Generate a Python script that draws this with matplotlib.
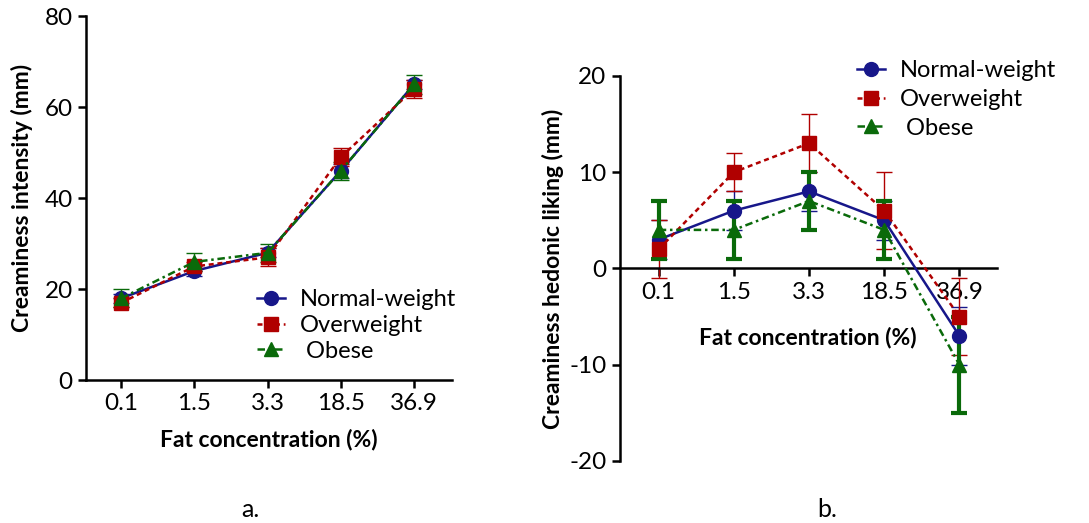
import matplotlib.pyplot as plt

plt.rcParams['font.family'] = ['Lato', 'DejaVu Sans']
plt.rcParams['axes.unicode_minus'] = False

# fat levels tested
fat_levels = ["0.1", "1.5", "3.3", "18.5", "36.9"]
groups = ["Normal-weight", "Overweight", " Obese"]

# creaminess intensity (mm), mean and SEM
intensity_normal = [18, 24, 28, 46, 65]
intensity_normal_err = [1, 1, 1, 1.5, 1]
intensity_over = [17, 25, 27, 49, 64]
intensity_over_err = [1, 1, 2, 2, 2]
intensity_obese = [18, 26, 28, 46, 65]
intensity_obese_err = [2, 2, 2, 2, 2]

# creaminess hedonic liking (mm), mean and SEM
liking_normal = [3, 6, 8, 5, -7]
liking_normal_err = [2, 2, 2, 2, 3]
liking_over = [2, 10, 13, 6, -5]
liking_over_err = [3, 2, 3, 4, 4]
liking_obese = [4, 4, 7, 4, -10]
liking_obese_err = [3, 3, 3, 3, 5]

colors = ["#17178a", "#b00000", "#0a6a0a"]
styles = ["-", (0, (2, 1.5)), (0, (3, 1.5, 1, 1.5))]
markers = ["o", "s", "^"]


def draw_series(ax, series, errs, err_widths):
	x = range(len(fat_levels))
	handles = []
	for y, e, c, ls, m, ew, name in zip(series, errs, colors, styles, markers, err_widths, groups):
		ax.errorbar(x, y, yerr=e, fmt='none', ecolor=c, elinewidth=ew, capsize=6, capthick=ew, zorder=2)
		h, = ax.plot(x, y, color=c, linestyle=ls, linewidth=1.8, marker=m, markersize=10, label=name, zorder=3)
		handles.append(h)
	return handles


def style_axes(ax):
	ax.spines['top'].set_visible(False)
	ax.spines['right'].set_visible(False)
	for s in ['left', 'bottom']:
		ax.spines[s].set_linewidth(1.8)
	ax.tick_params(width=1.8, length=6, labelsize=17.5, direction='out')
	ax.set_xticks(range(len(fat_levels)))
	ax.set_xticklabels(fat_levels)


fig = plt.figure(figsize=(10.89, 5.23), dpi=100)

# a. intensity
ax1 = fig.add_axes([0.079, 0.273, 0.336, 0.696])
h1 = draw_series(ax1, [intensity_normal, intensity_over, intensity_obese],
                 [intensity_normal_err, intensity_over_err, intensity_obese_err], [1, 1, 1])
style_axes(ax1)
ax1.set_xlim(-0.48, 4.52)
ax1.set_ylim(0, 80)
ax1.set_yticks([0, 20, 40, 60, 80])
ax1.set_ylabel("Creaminess intensity (mm)", fontsize=16.5, fontweight='bold', labelpad=8)
ax1.set_xlabel("Fat concentration (%)", fontsize=16.5, fontweight='bold', labelpad=10)
ax1.legend(handles=h1, loc='upper left', bbox_to_anchor=(0.236, 0.447), bbox_transform=fig.transFigure,
           frameon=False, fontsize=17, handlelength=1.2, labelspacing=0.2, handletextpad=0.6,
           borderpad=0, borderaxespad=0)

# b. hedonic liking, x axis crosses at zero
ax2 = fig.add_axes([0.569, 0.1186, 0.3465, 0.7364])
h2 = draw_series(ax2, [liking_normal, liking_over, liking_obese],
                 [liking_normal_err, liking_over_err, liking_obese_err], [1, 1, 3])
style_axes(ax2)
ax2.spines['bottom'].set_position(('data', 0))
ax2.set_xlim(-0.52, 4.5)
ax2.set_ylim(-20, 20)
ax2.set_yticks([-20, -10, 0, 10, 20])
ax2.set_ylabel("Creaminess hedonic liking (mm)", fontsize=16.5, fontweight='bold')
ax2.set_xlabel("Fat concentration (%)", fontsize=16.5, fontweight='bold', labelpad=17)
ax2.legend(handles=h2, loc='upper left', bbox_to_anchor=(0.787, 0.885), bbox_transform=fig.transFigure,
           frameon=False, fontsize=17, handlelength=1.2, labelspacing=0.33, handletextpad=0.6,
           borderpad=0, borderaxespad=0)

fig.text(0.23, 0.012, "a.", fontsize=18, ha='center')
fig.text(0.76, 0.012, "b.", fontsize=18, ha='center')

fig.savefig("out.png", dpi=100)
